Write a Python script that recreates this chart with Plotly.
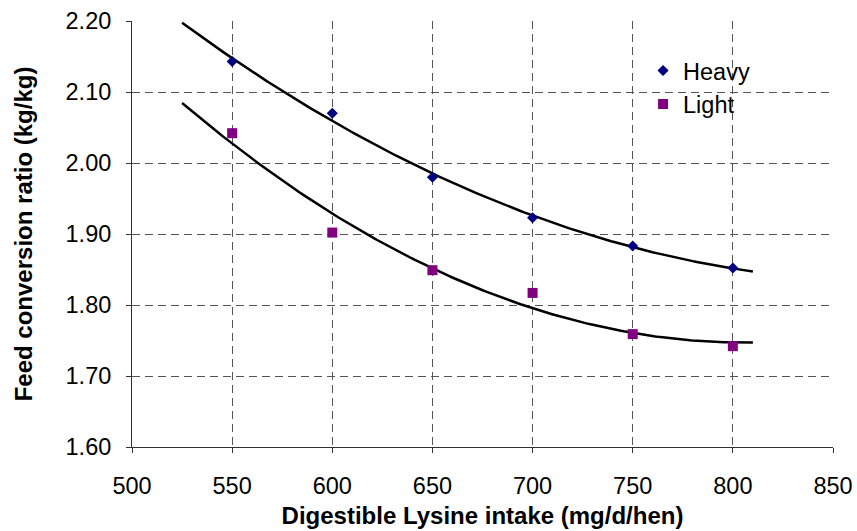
import numpy as np
import plotly.graph_objects as go

lysine = [550, 600, 650, 700, 750, 800]
heavy = [2.143, 2.070, 1.980, 1.923, 1.883, 1.852]
light = [2.042, 1.902, 1.849, 1.817, 1.759, 1.742]
trend_range = [525, 810]
x_ticks = [500, 550, 600, 650, 700, 750, 800, 850]
y_ticks = [1.60, 1.70, 1.80, 1.90, 2.00, 2.10, 2.20]

FONT = "Liberation Sans, Arial, sans-serif"
TICK = 23.5
TITLE = 24

fig = go.Figure()

xs = np.linspace(trend_range[0], trend_range[1], 200)
for ys in (heavy, light):
    coef = np.polyfit(lysine, ys, 2)
    fig.add_trace(go.Scatter(x=xs, y=np.polyval(coef, xs), mode="lines",
                             line=dict(color="black", width=2.5),
                             showlegend=False, hoverinfo="skip"))

fig.add_trace(go.Scatter(x=lysine, y=heavy, mode="markers", name="Heavy",
                         marker=dict(symbol="diamond", color="#000080", size=8.5)))
fig.add_trace(go.Scatter(x=lysine, y=light, mode="markers", name="Light",
                         marker=dict(symbol="square", color="#800080", size=10)))

grid = dict(showgrid=True, gridcolor="#555555", griddash="8px,5px", gridwidth=1)
fig.update_xaxes(range=[500, 850], tickvals=x_ticks, ticks="outside", ticklen=5,
                 tickcolor="#333333", showline=True, linecolor="#333333", linewidth=1,
                 zeroline=False, ticklabelstandoff=13, automargin=False,
                 tickfont=dict(size=TICK, color="black", family=FONT),
                 title=dict(text="<b>Digestible Lysine intake (mg/d/hen)</b>",
                            font=dict(size=TITLE, color="black", family=FONT), standoff=8),
                 **grid)
fig.update_yaxes(range=[1.60, 2.20], tickvals=y_ticks, tickformat=".2f", ticks="outside",
                 ticklen=5, tickcolor="#333333", showline=True, linecolor="#333333",
                 linewidth=1, zeroline=False, ticklabelstandoff=10, automargin=False,
                 tickfont=dict(size=TICK, color="black", family=FONT),
                 title=dict(text="<b>Feed conversion ratio (kg/kg)</b>",
                            font=dict(size=TITLE, color="black", family=FONT), standoff=26),
                 **grid)

fig.update_layout(
    width=857, height=531,
    margin=dict(l=132, r=24, t=21, b=84),
    plot_bgcolor="white", paper_bgcolor="white",
    font=dict(family=FONT, color="black"),
    legend=dict(x=0.729, y=0.935, xanchor="left", yanchor="top",
                bgcolor="rgba(0,0,0,0)", font=dict(size=TICK, family=FONT, color="black"),
                tracegroupgap=0),
)

fig.write_html("out.html")
